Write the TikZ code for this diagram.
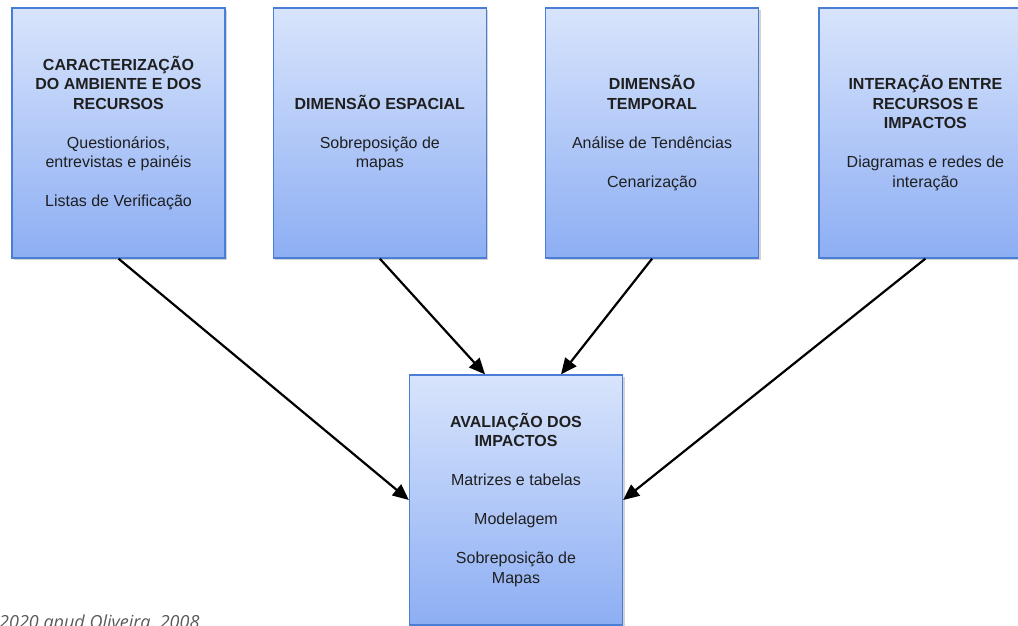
\documentclass[tikz,border=0pt]{standalone}
\usepackage{fontspec}
\setmainfont{Liberation Sans}
\newfontfamily\fontefonte{Open Sans}
\usepackage{xcolor}
\usepackage{tikz}
\usetikzlibrary{positioning,arrows.meta,shadows}
\definecolor{caixatopo}{HTML}{D8E4FB}
\definecolor{caixabase}{HTML}{8DAEF4}
\definecolor{caixalinha}{HTML}{4A7ED4}
\definecolor{fontecinza}{HTML}{5A5A5A}

\begin{document}
\begin{tikzpicture}[x=1pt, y=-1pt,
      font=\fontsize{16}{19.5}\selectfont,
      caixa/.style={draw=caixalinha, line width=1.3pt, top color=caixatopo, bottom color=caixabase,
                    align=center, minimum width=213pt, minimum height=250pt, inner sep=2pt,
                    text=black!88,
                    drop shadow={opacity=0.35, shadow xshift=2pt, shadow yshift=-2pt}},
      seta/.style={-{Triangle[length=16pt, width=14pt]}, black, line width=2.2pt}]
    \useasboundingbox (0,0) rectangle (1018,625);
    % caixas de cima
    \node[caixa] (c) at (118.5,133) {\textbf{CARACTERIZAÇÃO}\\ \textbf{DO AMBIENTE E DOS}\\ \textbf{RECURSOS}\\[19.5pt]
        Questionários,\\ entrevistas e painéis\\[19.5pt] Listas de Verificação};
    \node[caixa, right=47pt of c] (e) {\textbf{DIMENSÃO ESPACIAL}\\[19.5pt] Sobreposição de\\ mapas};
    \node[caixa, right=58pt of e] (t) {\textbf{DIMENSÃO}\\ \textbf{TEMPORAL}\\[19.5pt] Análise de Tendências\\[19.5pt] Cenarização};
    \node[caixa, right=59pt of t] (i) {\textbf{INTERAÇÃO ENTRE}\\ \textbf{RECURSOS E}\\ \textbf{IMPACTOS}\\[19.5pt]
        Diagramas e redes de\\ interação};
    % caixa de baixo
    \node[caixa] (a) at (516,500) {\textbf{AVALIAÇÃO DOS}\\ \textbf{IMPACTOS}\\[19.5pt] Matrizes e tabelas\\[19.5pt]
        Modelagem\\[19.5pt] Sobreposição de\\ Mapas};
    \draw[seta] (c.south) -- (a.west);
    \draw[seta] (e.south) -- ([xshift=-31pt]a.north);
    \draw[seta] (t.south) -- ([xshift=45pt]a.north);
    \draw[seta] (i.south) -- (a.east);
    % fonte
    \node[anchor=base west, inner sep=0pt, text=fontecinza, font=\fontefonte\itshape\fontsize{18}{20}\selectfont]
        (f) at (-1,628) {2020 apud Oliveira, 2008};
\end{tikzpicture}
\end{document}
